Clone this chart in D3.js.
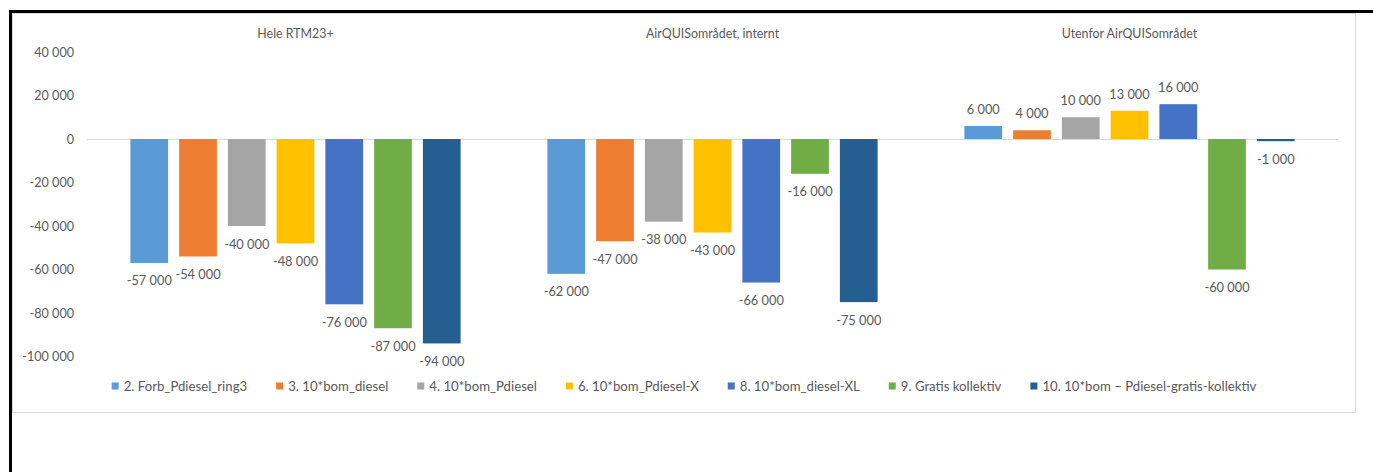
<!DOCTYPE html>
<html>
<head>
<meta charset="utf-8">
<script src="https://cdn.jsdelivr.net/npm/d3@7"></script>
<style>
  html, body { margin: 0; padding: 0; background: #fff; }
  svg { display: block; }
  text { font-family: Lato, "Open Sans", sans-serif; fill: #595959; }
</style>
</head>
<body>
<svg id="chart" width="1373" height="472"></svg>
<script>
// Regions (one panel each) and scenarios (one bar per region)
const regions = ["Hele RTM23+", "AirQUISområdet, internt", "Utenfor AirQUISområdet"];
const scenarios = [
  "2. Forb_Pdiesel_ring3",
  "3. 10*bom_diesel",
  "4. 10*bom_Pdiesel",
  "6. 10*bom_Pdiesel-X",
  "8. 10*bom_diesel-XL",
  "9. Gratis kollektiv",
  "10. 10*bom – Pdiesel-gratis-kollektiv"
];
const colors = ["#5B9BD5", "#ED7D31", "#A5A5A5", "#FFC000", "#4472C4", "#70AD47", "#255E91"];

// Change per scenario, listed in scenario order for each region
const heleRTM = [-57000, -54000, -40000, -48000, -76000, -87000, -94000];
const airquisInternt = [-62000, -47000, -38000, -43000, -66000, -16000, -75000];
const utenforAirquis = [6000, 4000, 10000, 13000, 16000, -60000, -1000];

const yTicks = [40000, 20000, 0, -20000, -40000, -60000, -80000, -100000];

const seriesByRegion = [heleRTM, airquisInternt, utenforAirquis];
const data = regions.map((r, i) => ({
  region: r,
  values: scenarios.map((s, j) => ({ scenario: s, value: seriesByRegion[i][j], color: colors[j] }))
}));

const svg = d3.select("#chart");

// Chart area outline and the thick black frame edges
const area = { x: 12.5, y: 13.5, w: 1343, h: 399 };
svg.append("rect").attr("x", area.x).attr("y", area.y).attr("width", area.w).attr("height", area.h)
  .attr("fill", "#fff").attr("stroke", "#D9D9D9").attr("stroke-width", 1);
svg.append("line").attr("x1", 9).attr("x2", 1373).attr("y1", 11.5).attr("y2", 11.5)
  .attr("stroke", "#000").attr("stroke-width", 3);
svg.append("line").attr("x1", 10.5).attr("x2", 10.5).attr("y1", 10).attr("y2", 472)
  .attr("stroke", "#000").attr("stroke-width", 3);

const plot = { left: 87, right: 1338, top: 52, bottom: 356.5 };

const y = d3.scaleLinear().domain([-100000, 40000]).range([plot.bottom, plot.top]);
const x0 = d3.scaleBand().domain(regions).range([plot.left, plot.right]).padding(0);
const x1 = d3.scaleBand().domain(scenarios).range([0, x0.bandwidth()])
  .paddingInner(0.226).paddingOuter(0.89);

const fmt = d3.formatLocale({ decimal: ",", thousands: " ", grouping: [3], currency: ["", " kr"], minus: "-" }).format(",d");

// Y axis labels
const yAxis = d3.axisLeft(y).tickValues(yTicks).tickFormat(fmt).tickSize(0).tickPadding(0);
const yg = svg.append("g").attr("transform", `translate(${74},0)`).call(yAxis);
yg.select(".domain").remove();
yg.selectAll("text").style("font-family", "Lato").style("font-size", "12.6px").attr("fill", "#595959");

// Zero line
svg.append("line")
  .attr("x1", plot.left).attr("x2", plot.right)
  .attr("y1", Math.round(y(0)) + 0.5).attr("y2", Math.round(y(0)) + 0.5)
  .attr("stroke", "#D9D9D9").attr("stroke-width", 1);

// Panel titles
svg.append("g").selectAll("text").data(regions).join("text")
  .attr("x", d => x0(d) + x0.bandwidth() / 2)
  .attr("y", 33)
  .attr("text-anchor", "middle")
  .attr("dominant-baseline", "central")
  .style("font-size", "12.4px")
  .text(d => d);

// Bars
const groups = svg.append("g").selectAll("g").data(data).join("g")
  .attr("transform", d => `translate(${x0(d.region)},0)`);

groups.selectAll("rect").data(d => d.values).join("rect")
  .attr("x", d => x1(d.scenario))
  .attr("width", x1.bandwidth())
  .attr("y", d => y(Math.max(0, d.value)))
  .attr("height", d => Math.abs(y(d.value) - y(0)))
  .attr("fill", d => d.color);

// Value labels
groups.selectAll("text").data(d => d.values).join("text")
  .attr("x", d => x1(d.scenario) + x1.bandwidth() / 2)
  .attr("y", d => d.value >= 0 ? y(d.value) - 17 : y(d.value) + 17.5)
  .attr("text-anchor", "middle")
  .attr("dominant-baseline", "central")
  .style("font-size", "12.8px")
  .text(d => fmt(d.value));

// Legend: items laid out from measured text widths, centred in the chart area
const swatch = 7, swatchGap = 5, itemGap = 29;
const legend = svg.append("g");
let lx = 0;
scenarios.forEach((s, i) => {
  const item = legend.append("g").attr("transform", `translate(${lx},0)`);
  item.append("rect").attr("x", 0).attr("y", -swatch / 2).attr("width", swatch).attr("height", swatch).attr("fill", colors[i]);
  const t = item.append("text").attr("x", swatch + swatchGap).attr("y", 0)
    .attr("dominant-baseline", "central")
    .style("font-size", "13.2px")
    .text(s);
  lx += swatch + swatchGap + t.node().getComputedTextLength() + (i < scenarios.length - 1 ? itemGap : 0);
});
legend.attr("transform", `translate(${area.x + area.w / 2 - lx / 2},386)`);
</script>
</body>
</html>
